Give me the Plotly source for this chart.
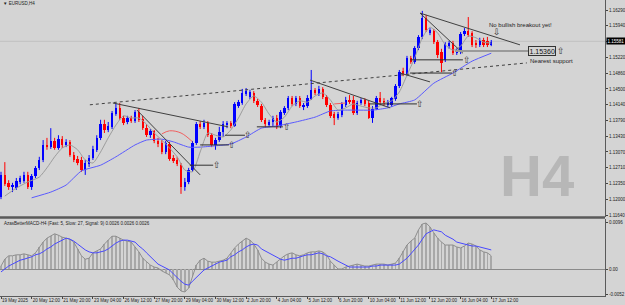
import plotly.graph_objects as go

# ---------------- data ----------------
bars = list(range(129))  # H4 bar number, 0 = 19 May 04:00

opens = [1.1205,1.1255,1.1237,1.1228,1.1225,1.1239,1.1241,1.1255,1.1228,1.1253,
         1.1271,1.1289,1.1323,1.1318,1.1332,1.1316,1.1336,1.1323,1.1330,1.1300,
         1.1291,1.1289,1.1266,1.1280,1.1293,1.1312,1.1339,1.1370,1.1357,1.1364,
         1.1393,1.1407,1.1384,1.1375,1.1384,1.1377,1.1398,1.1382,1.1361,1.1345,
         1.1355,1.1332,1.1327,1.1307,1.1325,1.1293,1.1289,1.1277,1.1228,1.1239,
         1.1266,1.1327,1.1370,1.1364,1.1373,1.1345,1.1323,1.1334,1.1352,1.1368,
         1.1373,1.1366,1.1411,1.1418,1.1439,1.1432,1.1441,1.1423,1.1411,1.1380,
         1.1368,1.1375,1.1384,1.1366,1.1395,1.1407,1.1429,1.1416,1.1429,1.1409,
         1.1411,1.1427,1.1448,1.1439,1.1450,1.1432,1.1414,1.1393,1.1384,1.1391,
         1.1414,1.1425,1.1425,1.1395,1.1418,1.1425,1.1418,1.1384,1.1404,1.1429,
         1.1423,1.1414,1.1414,1.1427,1.1457,1.1491,1.1484,1.1520,1.1511,1.1543,
         1.1568,1.1611,1.1577,1.1581,1.1556,1.1534,1.1516,1.1547,1.1554,1.1531,
         1.1534,1.1575,1.1581,1.1577,1.1554,1.1550,1.1561,1.1559,1.1550]
closes = [1.1255,1.1234,1.1228,1.1232,1.1241,1.1248,1.1255,1.1228,1.1253,1.1271,
          1.1289,1.1323,1.1318,1.1332,1.1316,1.1336,1.1323,1.1330,1.1300,1.1289,
          1.1282,1.1266,1.1282,1.1293,1.1314,1.1339,1.1370,1.1357,1.1366,1.1395,
          1.1407,1.1384,1.1373,1.1384,1.1377,1.1398,1.1380,1.1361,1.1345,1.1355,
          1.1332,1.1325,1.1307,1.1327,1.1291,1.1287,1.1280,1.1228,1.1239,1.1266,
          1.1327,1.1370,1.1364,1.1373,1.1345,1.1323,1.1334,1.1352,1.1370,1.1373,
          1.1366,1.1416,1.1420,1.1441,1.1445,1.1443,1.1423,1.1414,1.1380,1.1370,
          1.1375,1.1384,1.1364,1.1398,1.1407,1.1429,1.1416,1.1429,1.1411,1.1414,
          1.1429,1.1448,1.1441,1.1450,1.1432,1.1414,1.1389,1.1384,1.1393,1.1416,
          1.1425,1.1420,1.1395,1.1418,1.1425,1.1416,1.1384,1.1404,1.1429,1.1420,
          1.1416,1.1420,1.1429,1.1457,1.1488,1.1484,1.1520,1.1511,1.1543,1.1568,
          1.1611,1.1584,1.1584,1.1556,1.1527,1.1509,1.1552,1.1554,1.1531,1.1538,
          1.1575,1.1581,1.1572,1.1550,1.1550,1.1561,1.1550,1.1550,1.1556]
highs = [1.1262,1.1284,1.1243,1.1237,1.1248,1.1253,1.1262,1.1262,1.1257,1.1275,
         1.1296,1.1334,1.1339,1.1361,1.1339,1.1345,1.1343,1.1336,1.1334,1.1307,
         1.1298,1.1296,1.1289,1.1300,1.1321,1.1345,1.1380,1.1380,1.1375,1.1400,
         1.1418,1.1418,1.1389,1.1389,1.1389,1.1402,1.1407,1.1389,1.1370,1.1359,
         1.1357,1.1339,1.1334,1.1332,1.1330,1.1300,1.1296,1.1282,1.1248,1.1271,
         1.1332,1.1375,1.1377,1.1380,1.1377,1.1350,1.1339,1.1364,1.1377,1.1377,
         1.1377,1.1420,1.1425,1.1450,1.1452,1.1448,1.1445,1.1427,1.1416,1.1384,
         1.1380,1.1389,1.1391,1.1402,1.1411,1.1434,1.1434,1.1434,1.1434,1.1418,
         1.1436,1.1493,1.1452,1.1457,1.1454,1.1436,1.1418,1.1398,1.1398,1.1420,
         1.1432,1.1436,1.1434,1.1423,1.1429,1.1429,1.1423,1.1411,1.1434,1.1443,
         1.1429,1.1425,1.1432,1.1461,1.1493,1.1498,1.1525,1.1525,1.1547,1.1572,
         1.1627,1.1618,1.1588,1.1586,1.1561,1.1541,1.1556,1.1559,1.1559,1.1543,
         1.1579,1.1588,1.1613,1.1581,1.1561,1.1566,1.1566,1.1568,1.1561]
lows = [1.1200,1.1230,1.1221,1.1216,1.1221,1.1234,1.1237,1.1223,1.1221,1.1248,
        1.1266,1.1284,1.1312,1.1314,1.1312,1.1312,1.1316,1.1318,1.1296,1.1284,
        1.1277,1.1262,1.1255,1.1273,1.1289,1.1307,1.1334,1.1350,1.1352,1.1359,
        1.1389,1.1380,1.1368,1.1370,1.1373,1.1373,1.1375,1.1357,1.1341,1.1339,
        1.1327,1.1318,1.1302,1.1302,1.1287,1.1282,1.1275,1.1212,1.1219,1.1234,
        1.1262,1.1323,1.1359,1.1359,1.1341,1.1318,1.1312,1.1330,1.1341,1.1361,
        1.1361,1.1364,1.1407,1.1414,1.1434,1.1427,1.1418,1.1409,1.1375,1.1364,
        1.1364,1.1366,1.1359,1.1361,1.1391,1.1402,1.1411,1.1411,1.1407,1.1402,
        1.1407,1.1425,1.1436,1.1434,1.1427,1.1409,1.1384,1.1368,1.1380,1.1386,
        1.1409,1.1416,1.1391,1.1391,1.1414,1.1411,1.1382,1.1373,1.1402,1.1416,
        1.1411,1.1409,1.1409,1.1423,1.1452,1.1479,1.1479,1.1507,1.1507,1.1538,
        1.1563,1.1579,1.1572,1.1552,1.1520,1.1488,1.1511,1.1541,1.1527,1.1527,
        1.1529,1.1570,1.1568,1.1545,1.1543,1.1545,1.1545,1.1545,1.1547]

# fast MA (gray) and slow MA (blue), read as vertices
fast_ma_bar = [1,4,7,10,12,14,16,18,20,22,24,26,28,30,32,34,36,38,40,42,44,46,48,50,
               52,54,56,58,60,62,64,66,68,70,72,74,76,78,80,82,84,86,88,90,92,94,96,98,
               100,102,104,106,108,110,112,114,116,118,120,122,124,126,128]
fast_ma = [1.1207,1.1225,1.1239,1.1250,1.1271,1.1296,1.1316,1.1323,1.1312,1.1289,1.1282,1.1307,
           1.1339,1.1368,1.1389,1.1384,1.1384,1.1370,1.1350,1.1334,1.1316,1.1296,1.1266,1.1262,
           1.1307,1.1350,1.1345,1.1341,1.1357,1.1384,1.1416,1.1434,1.1420,1.1393,1.1375,1.1386,
           1.1411,1.1423,1.1420,1.1434,1.1441,1.1425,1.1402,1.1407,1.1416,1.1411,1.1407,1.1407,
           1.1418,1.1423,1.1443,1.1481,1.1520,1.1566,1.1590,1.1577,1.1550,1.1538,1.1547,1.1570,
           1.1566,1.1556,1.1554]
slow_ma_bar = [8,13,17,21,26,30,35,38,42,45,49,52,56,60,64,68,72,77,82,86,90,97,101,104,108,113,118,123,128]
slow_ma = [1.1203,1.1216,1.1232,1.1264,1.1277,1.1296,1.1323,1.1334,1.1336,1.1330,1.1318,1.1318,
           1.1321,1.1325,1.1341,1.1361,1.1366,1.1375,1.1386,1.1400,1.1402,1.1402,1.1407,1.1416,
           1.1425,1.1463,1.1486,1.1513,1.1531]
red_ma1_bar = [42,44,47,50]
red_ma1 = [1.1348,1.1355,1.1350,1.1330]
red_ma2_bar = [87,90]
red_ma2 = [1.1416,1.1418]

# MACD (5, 27, 9)
macd_main = [0.0006,0.0020,0.0027,0.0027,0.0029,0.0029,0.0031,0.0029,0.0027,0.0033,
             0.0045,0.0055,0.0063,0.0067,0.0072,0.0069,0.0065,0.0063,0.0061,0.0055,
             0.0041,0.0027,0.0020,0.0022,0.0033,0.0037,0.0041,0.0051,0.0059,0.0067,
             0.0067,0.0063,0.0059,0.0057,0.0055,0.0045,0.0035,0.0022,0.0014,0.0008,
             0.0004,0.0002,-0.0004,-0.0008,-0.0012,-0.0022,-0.0037,-0.0045,-0.0047,-0.0039,
             -0.0016,0.0008,0.0018,0.0022,0.0016,0.0014,0.0014,0.0016,0.0018,0.0022,
             0.0033,0.0043,0.0051,0.0057,0.0063,0.0059,0.0051,0.0039,0.0022,0.0014,
             0.0010,0.0008,0.0014,0.0020,0.0027,0.0031,0.0033,0.0029,0.0027,0.0029,
             0.0033,0.0035,0.0035,0.0037,0.0035,0.0029,0.0016,0.0008,0.0000,0.0000,
             0.0004,0.0006,0.0008,0.0010,0.0008,0.0006,0.0006,0.0008,0.0010,0.0010,
             0.0010,0.0008,0.0010,0.0012,0.0022,0.0037,0.0049,0.0057,0.0063,0.0080,
             0.0092,0.0094,0.0086,0.0074,0.0063,0.0055,0.0049,0.0049,0.0049,0.0045,
             0.0043,0.0047,0.0053,0.0051,0.0047,0.0039,0.0035,0.0033,0.0027]
macd_signal = [-0.0006,0.0000,0.0006,0.0010,0.0014,0.0018,0.0020,0.0022,0.0025,0.0029,
               0.0031,0.0035,0.0041,0.0045,0.0051,0.0055,0.0059,0.0063,0.0061,0.0057,
               0.0051,0.0045,0.0039,0.0035,0.0033,0.0033,0.0035,0.0037,0.0041,0.0047,
               0.0053,0.0057,0.0059,0.0059,0.0057,0.0055,0.0047,0.0041,0.0033,0.0025,
               0.0018,0.0010,0.0006,0.0002,-0.0002,-0.0010,-0.0018,-0.0025,-0.0031,-0.0033,
               -0.0025,-0.0018,-0.0010,-0.0002,0.0002,0.0006,0.0010,0.0014,0.0016,0.0018,
               0.0025,0.0029,0.0035,0.0039,0.0045,0.0049,0.0051,0.0049,0.0041,0.0037,
               0.0033,0.0029,0.0025,0.0020,0.0018,0.0020,0.0022,0.0022,0.0025,0.0027,
               0.0029,0.0029,0.0031,0.0033,0.0031,0.0027,0.0025,0.0020,0.0016,0.0012,
               0.0008,0.0004,0.0004,0.0004,0.0004,0.0004,0.0004,0.0006,0.0006,0.0008,
               0.0008,0.0008,0.0008,0.0008,0.0010,0.0016,0.0022,0.0031,0.0039,0.0049,
               0.0061,0.0072,0.0076,0.0080,0.0078,0.0076,0.0069,0.0065,0.0061,0.0055,
               0.0053,0.0051,0.0049,0.0047,0.0047,0.0045,0.0043,0.0041,0.0039]

# axis ticks
time_tick_bars = [0,8,16,24,32,40,48,56,64,72,80,88,96,104,112,120,128]
time_tick_text = ["19 May 2025","20 May 12:00","21 May 20:00","23 May 04:00","26 May 12:00",
                  "27 May 20:00","29 May 04:00","30 May 12:00","2 Jun 20:00","4 Jun 04:00",
                  "5 Jun 12:00","6 Jun 20:00","10 Jun 04:00","11 Jun 12:00","12 Jun 20:00",
                  "16 Jun 04:00","17 Jun 12:00"]
price_ticks = [1.16290,1.15940,1.15580,1.15220,1.14860,1.14500,1.14140,1.13790,
               1.13430,1.13070,1.12710,1.12350,1.12000,1.11640]
price_tick_text = ["1.16290","1.15940","","1.15220","1.14860","1.14500","1.14140","1.13790",
                   "1.13430","1.13070","1.12710","1.12350","1.12000","1.11640"]
macd_ticks = [0.0096, 0.0, -0.0052]
macd_tick_text = ["0.0096", "0.00", "-0.0052"]
bid_price = 1.15581
support_price = 1.15360

# drawn trend lines: (bar start, bar end, price start, price end)
trend_solid = [
    (29.2, 59.3, 1.1418, 1.1364),
    (35.5, 52.0, 1.1402, 1.1255),
    (80.7, 101.6, 1.1470, 1.1407),
    (109.4, 135.5, 1.1622, 1.1550),
    (109.4, 120.6, 1.1622, 1.1531),
    (104.2, 112.0, 1.1486, 1.1466),
]
trend_dotted = [(23.2, 137.3, 1.1414, 1.1509)]
# horizontal marker lines with up arrows: (bar start, bar end, price, arrow bar)
levels = [
    (49.3, 55.4, 1.1277, 56.4),
    (52.0, 59.5, 1.1323, 60.3),
    (58.5, 63.7, 1.1345, 64.5),
    (66.8, 73.6, 1.1364, 74.7),
    (96.3, 108.6, 1.1416, 109.4),
    (106.8, 117.8, 1.1486, 118.5),
    (106.8, 120.6, 1.1516, 121.7),
]

# ---------------- figure ----------------
BG = "#d4d4d4"
XR = [-0.26, 157.7]
XD = [0, 0.968]
FONT = "Liberation Sans, Arial, sans-serif"
UP, DN = "#0000ff", "#ff0000"

fig = go.Figure()

# candles: wicks + bodies, split by direction
for is_up, col in ((True, UP), (False, DN)):
    wx, wy, bx, bbase, bh = [], [], [], [], []
    for i, o, h, l, c in zip(bars, opens, highs, lows, closes):
        if (c >= o) != is_up:
            continue
        wx += [i, i, None]
        wy += [l, h, None]
        bx.append(i)
        bbase.append(min(o, c))
        bh.append(max(abs(c - o), 0.00006))
    fig.add_trace(go.Scatter(x=wx, y=wy, mode="lines", line=dict(color=col, width=1),
                             xaxis="x", yaxis="y", hoverinfo="skip"))
    fig.add_trace(go.Bar(x=bx, y=bh, base=bbase, width=0.62, marker=dict(color=col, line=dict(width=0)),
                         xaxis="x", yaxis="y", hoverinfo="skip"))

fig.add_trace(go.Scatter(x=slow_ma_bar, y=slow_ma, mode="lines",
                         line=dict(color="#5a5aff", width=1, shape="spline", smoothing=0.5),
                         xaxis="x", yaxis="y"))
fig.add_trace(go.Scatter(x=fast_ma_bar, y=fast_ma, mode="lines",
                         line=dict(color="#9c9c9c", width=1, shape="spline", smoothing=0.6),
                         xaxis="x", yaxis="y"))
fig.add_trace(go.Scatter(x=red_ma1_bar, y=red_ma1, mode="lines",
                         line=dict(color="#f06060", width=1, shape="spline"), xaxis="x", yaxis="y"))
fig.add_trace(go.Scatter(x=red_ma2_bar, y=red_ma2, mode="lines",
                         line=dict(color="#f06060", width=1), xaxis="x", yaxis="y"))

for (x0, x1, p0, p1) in trend_dotted:
    fig.add_trace(go.Scatter(x=[x0, x1], y=[p0, p1], mode="lines",
                             line=dict(color="#404040", width=1, dash="dot"), xaxis="x", yaxis="y"))
for (x0, x1, p0, p1) in trend_solid:
    fig.add_trace(go.Scatter(x=[x0, x1], y=[p0, p1], mode="lines",
                             line=dict(color="#404040", width=1), xaxis="x", yaxis="y"))
for (x0, x1, p, xa) in levels:
    fig.add_trace(go.Scatter(x=[x0, x1], y=[p, p], mode="lines",
                             line=dict(color="#303030", width=1), xaxis="x", yaxis="y"))

# support line
fig.add_trace(go.Scatter(x=[118.5, 137.6], y=[support_price, support_price], mode="lines",
                         line=dict(color="#9a9a9a", width=2), xaxis="x", yaxis="y"))

# MACD panel
fig.add_trace(go.Bar(x=bars, y=macd_main, width=0.22,
                     marker=dict(color="#a8a8a8", line=dict(width=0)), xaxis="x2", yaxis="y2"))
fig.add_trace(go.Scatter(x=bars, y=macd_main, mode="lines",
                         line=dict(color="#8e8e8e", width=1), xaxis="x2", yaxis="y2"))
fig.add_trace(go.Scatter(x=bars, y=macd_signal, mode="lines",
                         line=dict(color="#4848ff", width=1), xaxis="x2", yaxis="y2"))

ann = []
arrow_font = dict(family="DejaVu Sans", size=9, color="#333333")
for (x0, x1, p, xa) in levels:
    ann.append(dict(x=xa, y=p, xref="x", yref="y", text="⇧", showarrow=False,
                    font=arrow_font, xanchor="center", yanchor="middle"))
ann += [
    dict(x=126.9, y=1.1595, xref="x", yref="y", text="No bullish breakout yet!", showarrow=False,
         font=dict(family=FONT, size=6, color="#222222"), xanchor="left", yanchor="middle"),
    dict(x=129.5, y=1.1579, xref="x", yref="y", text="⇩", showarrow=False,
         font=arrow_font, xanchor="center", yanchor="middle"),
    dict(x=137.6, y=support_price, xref="x", yref="y", text="1.15360", showarrow=False,
         font=dict(family=FONT, size=7, color="#111111"), xanchor="left", yanchor="middle",
         bordercolor="#333333", borderwidth=1, borderpad=0.5, bgcolor=BG),
    dict(x=146.2, y=support_price, xref="x", yref="y", text="⇧", showarrow=False,
         font=arrow_font, xanchor="center", yanchor="middle"),
    dict(x=137.6, y=1.1513, xref="x", yref="y", text="Nearest support", showarrow=False,
         font=dict(family=FONT, size=6, color="#222222"), xanchor="left", yanchor="middle"),
    dict(x=0.859, y=0.423, xref="paper", yref="paper", text="<b>H4</b>", showarrow=False,
         font=dict(family=FONT, size=58, color="#b7b7b7"), xanchor="center", yanchor="middle"),
    dict(x=0.002, y=0.988, xref="paper", yref="paper", text="▼ EURUSD,H4", showarrow=False,
         font=dict(family=FONT, size=4.5, color="#222222"), xanchor="left", yanchor="middle"),
    dict(x=0.003, y=0.268, xref="paper", yref="paper",
         text="AzasBetterMACD-H4 (Fast: 5, Slow: 27, Signal: 9) 0.0026 0.0026 0.0026",
         showarrow=False, font=dict(family=FONT, size=4.5, color="#222222"),
         xanchor="left", yanchor="middle"),
    dict(x=0.969, y=bid_price, xref="paper", yref="y", text="1.15581", showarrow=False,
         font=dict(family=FONT, size=4.5, color="#ffffff"), xanchor="left", yanchor="middle",
         bgcolor="#000000", borderpad=0.5),
]

shapes = [
    dict(type="line", xref="paper", yref="y", x0=XD[0], x1=XD[1], y0=bid_price, y1=bid_price,
         line=dict(color="#c0c0c0", width=1), layer="below"),
    dict(type="line", xref="paper", yref="paper", x0=0, x1=XD[1], y0=1 - 217.5 / 305, y1=1 - 217.5 / 305,
         line=dict(color="#5a5a5a", width=2.5)),
]

tfont = dict(family=FONT, size=4.5, color="#222222")
fig.update_layout(
    width=625, height=305, margin=dict(l=0, r=0, t=0, b=0, autoexpand=False),
    paper_bgcolor=BG, plot_bgcolor=BG, showlegend=False, bargap=0, barmode="overlay",
    xaxis=dict(domain=XD, range=XR, anchor="y", showticklabels=False, ticks="", automargin=False,
               showgrid=False, zeroline=False, rangeslider=dict(visible=False)),
    yaxis=dict(domain=[1 - 217 / 305, 1], range=[1.11595, 1.16517], anchor="x", side="right",
               tickvals=price_ticks, ticktext=price_tick_text, ticks="outside", ticklen=2,
               tickcolor="#444444", showline=True, linecolor="#5a5a5a", linewidth=1,
               showgrid=False, zeroline=False, tickfont=tfont, automargin=False),
    xaxis2=dict(domain=XD, range=XR, anchor="y2", tickvals=time_tick_bars, ticktext=time_tick_text,
                ticks="outside", ticklen=2, tickcolor="#444444", ticklabelposition="outside right",
                tickangle=0, showline=True, linecolor="#5a5a5a", linewidth=1,
                showgrid=False, zeroline=False, tickfont=tfont, automargin=False),
    yaxis2=dict(domain=[1 - 296 / 305, 1 - 219 / 305], range=[-0.00552, 0.01022], anchor="x2", side="right",
                tickvals=macd_ticks, ticktext=macd_tick_text, ticks="outside", ticklen=2,
                tickcolor="#444444", showline=True, linecolor="#5a5a5a", linewidth=1,
                showgrid=False, zeroline=True, zerolinecolor="#8a8a8a", zerolinewidth=1,
                tickfont=tfont, automargin=False),
    annotations=ann, shapes=shapes,
)

fig.write_html("out.html")
